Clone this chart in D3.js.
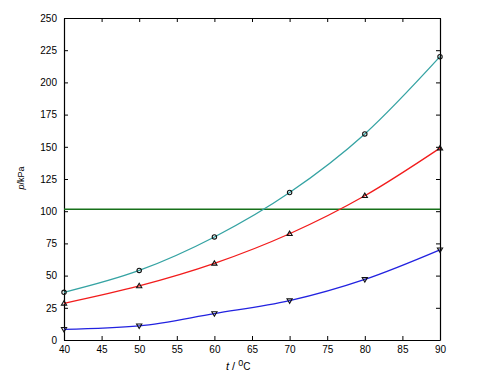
<!DOCTYPE html>
<html>
<head>
<meta charset="utf-8">
<script src="https://cdn.jsdelivr.net/npm/d3@7"></script>
<style>
  body { margin: 0; background: #fff; }
  svg { font-family: "Liberation Sans", Arial, sans-serif; }
  .tick text { font-size: 10px; fill: #000; }
</style>
</head>
<body>
<script>
// data
const temps = [40, 50, 60, 70, 80, 90];
const cyanVals = [37, 54, 80, 114.5, 160, 220];
const redVals = [28.5, 42, 59.5, 82.5, 112, 149];
const blueVals = [8.3, 11, 20.5, 30.5, 47, 70];
const refLevel = 101.5;
const xTicks = [40, 45, 50, 55, 60, 65, 70, 75, 80, 85, 90];
const yTicks = [0, 25, 50, 75, 100, 125, 150, 175, 200, 225, 250];

const width = 481, height = 386;
const plotL = 64, plotR = 440, plotT = 18, plotB = 340;

const svg = d3.select('body').append('svg')
    .attr('width', width)
    .attr('height', height);

const x = d3.scaleLinear().domain([40, 90]).range([plotL, plotR]);
const y = d3.scaleLinear().domain([0, 250]).range([plotB, plotT]);

// axes, ticks pointing inward on all sides
const axisStyle = g => {
    g.select('.domain').attr('stroke', '#000').attr('stroke-width', 1.2);
    g.selectAll('.tick line').attr('stroke', '#000');
};
svg.append('g').attr('transform', `translate(0,${plotB})`)
    .call(d3.axisBottom(x).tickValues(xTicks).tickSize(-4).tickSizeOuter(0).tickPadding(6))
    .call(axisStyle);
svg.append('g').attr('transform', `translate(0,${plotT})`)
    .call(d3.axisTop(x).tickValues(xTicks).tickSize(-4).tickSizeOuter(0).tickFormat(''))
    .call(axisStyle);
svg.append('g').attr('transform', `translate(${plotL},0)`)
    .call(d3.axisLeft(y).tickValues(yTicks).tickSize(-4).tickSizeOuter(0).tickPadding(7))
    .call(axisStyle);
svg.append('g').attr('transform', `translate(${plotR},0)`)
    .call(d3.axisRight(y).tickValues(yTicks).tickSize(-4).tickSizeOuter(0).tickFormat(''))
    .call(axisStyle);

// reference line
svg.append('line')
    .attr('x1', x(40)).attr('x2', x(90))
    .attr('y1', y(refLevel)).attr('y2', y(refLevel))
    .attr('stroke', '#17701a').attr('stroke-width', 1.4);

// series
const series = [
    { vals: cyanVals, color: '#35a3a3', symbol: 'circle' },
    { vals: redVals, color: '#f21c1c', symbol: 'up' },
    { vals: blueVals, color: '#2222e0', symbol: 'down' }
];
const line = d3.line()
    .x((d, i) => x(temps[i]))
    .y(d => y(d))
    .curve(d3.curveMonotoneX);

series.forEach(s => {
    svg.append('path')
        .datum(s.vals)
        .attr('d', line)
        .attr('fill', 'none')
        .attr('stroke', s.color)
        .attr('stroke-width', 1.3);

    const marks = svg.append('g');
    s.vals.forEach((v, i) => {
        const cx = x(temps[i]), cy = y(v);
        if (s.symbol === 'circle') {
            marks.append('circle').attr('cx', cx).attr('cy', cy).attr('r', 2.2)
                .attr('fill', 'none').attr('stroke', '#111').attr('stroke-width', 1.1);
        } else {
            const dir = s.symbol === 'up' ? -1 : 1;
            const pts = [[cx, cy + dir * 2.6], [cx - 2.6, cy - dir * 1.8], [cx + 2.6, cy - dir * 1.8]];
            marks.append('path').attr('d', 'M' + pts.join('L') + 'Z')
                .attr('fill', 'none').attr('stroke', '#111').attr('stroke-width', 1.1);
        }
    });
});

// labels
const xl = svg.append('text')
    .attr('x', 226).attr('y', 370)
    .attr('font-size', 11);
xl.append('tspan').attr('font-style', 'italic').text('t');
xl.append('tspan').text(' / ');
xl.append('tspan').attr('dy', -4).attr('font-size', 9).text('0');
xl.append('tspan').attr('dy', 4).attr('font-size', 10).text('C');

svg.append('text')
    .attr('transform', 'translate(24,178) rotate(-90)')
    .attr('text-anchor', 'middle')
    .attr('font-size', 9)
    .html('<tspan font-style="italic">p</tspan>/kPa');
</script>
</body>
</html>
